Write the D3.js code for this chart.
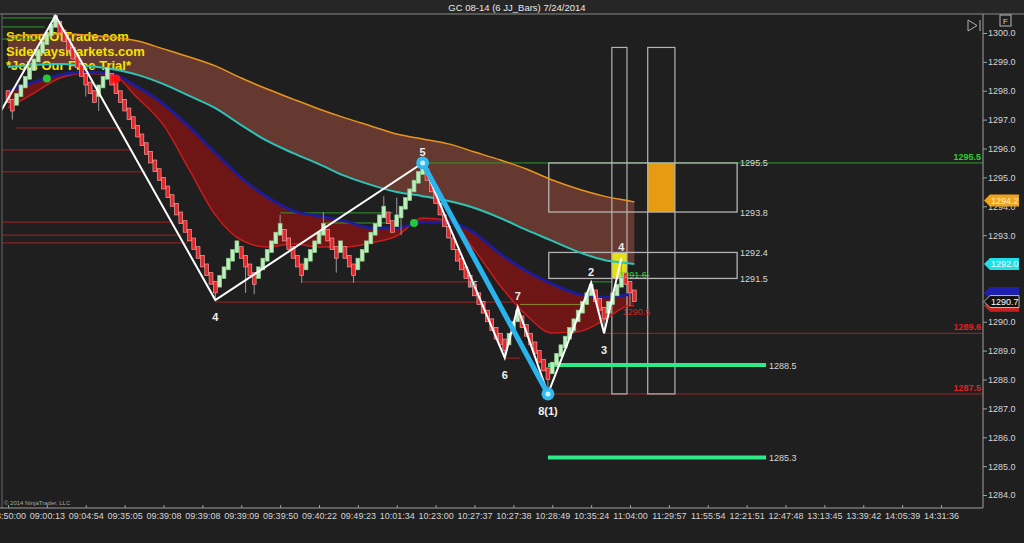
<!DOCTYPE html>
<html><head><meta charset="utf-8">
<script src="https://cdn.jsdelivr.net/npm/d3@7"></script>
<style>
html,body{margin:0;padding:0;background:#1e1e1e;overflow:hidden;}
svg{display:block;font-family:"Liberation Sans",Arial,sans-serif;}
</style></head><body>
<svg id="c" width="1024" height="543"></svg>
<script>
// ---------------- DATA ----------------
const title = "GC 08-14 (6 JJ_Bars)  7/24/2014";
const timeLabels = ["08:50:00","09:00:13","09:04:54","09:35:05","09:39:08","09:39:08","09:39:09","09:39:50","09:40:22","09:49:23","10:01:34","10:23:00","10:27:37","10:27:38","10:28:49","10:35:24","11:04:00","11:29:57","11:55:54","12:21:51","12:47:48","13:13:45","13:39:42","14:05:39","14:31:36"];
const priceTicks = [1284,1285,1286,1287,1288,1289,1290,1293,1294,1295,1296,1297,1298,1299,1300];

const startClose = 1297.9;
const closes = [
1297.6,1297.3,1297.9,1298.2,1298.5,1298.8,1299.1,1299.4,1299.7,1300.0,
1300.3,1300.6,1300.0,1299.7,1299.4,1299.1,1298.8,1298.5,1298.2,1297.9,
1297.6,1298.2,1298.5,1298.8,1298.2,1297.9,1297.6,1297.3,1297.0,1296.7,
1296.4,1296.1,1295.8,1295.5,1295.2,1294.9,1294.6,1294.3,1294.0,1293.7,
1293.4,1293.1,1292.8,1292.5,1292.2,1291.9,1291.6,1291.3,1291.0,1291.6,
1291.9,1292.2,1292.5,1292.8,1292.2,1291.9,1291.6,1291.3,1291.9,1292.2,
1292.5,1292.8,1293.1,1293.4,1292.8,1292.5,1292.2,1291.9,1291.6,1292.2,
1292.5,1292.8,1293.1,1293.4,1292.8,1292.5,1292.2,1292.8,1292.2,1291.9,
1291.6,1292.2,1292.5,1292.8,1293.1,1293.4,1293.7,1294.0,1293.4,1293.1,
1293.7,1294.0,1294.3,1294.6,1294.9,1295.2,1295.5,1294.9,1294.5,1294.1,
1293.7,1293.3,1292.9,1292.5,1292.1,1291.8,1291.5,1291.2,1290.9,1290.6,
1290.3,1290.0,1289.7,1289.4,1289.2,1289.0,1289.6,1290.0,1290.4,1289.8,
1289.5,1289.2,1288.9,1288.6,1288.3,1288.0,1288.6,1288.9,1289.2,1289.5,
1289.8,1290.1,1290.4,1290.7,1291.0,1291.3,1290.7,1290.4,1290.1,1290.7,
1291.0,1291.3,1291.6,1291.3,1291.0,1290.7
];
const wickIdx = [1,18,21,48,55,57,63,68,73,76,80,87,90,91,115,118,125,131,135,138,142,144];
const wickLo  = [1297.0,1297.8,1297.3,1290.75,1291.0,1290.95,null,1291.35,null,1291.7,1291.35,null,null,1293.0,1288.75,null,1287.5,1289.6,null,1289.6,null,1290.55];
const wickHi  = [null,null,null,null,null,null,1293.7,null,1293.8,null,null,1294.35,1294.3,null,null,1290.5,null,null,1291.4,null,1292.2,null];

const maIdx    = [0,6,12,18,24,30,36,42,48,54,60,66,72,78,84,90,96,102,108,114,120,126,132,138,144,145];
const maOrange = [1299.90,1299.93,1299.97,1299.93,1299.86,1299.72,1299.45,1299.17,1298.86,1298.44,1298.06,1297.71,1297.37,1297.06,1296.78,1296.50,1296.33,1296.16,1295.88,1295.60,1295.29,1294.91,1294.60,1294.35,1294.18,1294.15];
const maTeal   = [1298.82,1298.89,1298.93,1298.86,1298.75,1298.55,1298.23,1297.82,1297.40,1296.81,1296.26,1295.84,1295.46,1295.05,1294.74,1294.49,1294.35,1294.18,1293.94,1293.59,1293.18,1292.80,1292.42,1292.14,1292.02,1292.0];
const maNavy   = [1297.99,1298.30,1298.55,1298.65,1298.58,1298.13,1297.54,1296.74,1295.84,1294.98,1294.32,1293.84,1293.66,1293.49,1293.25,1293.25,1293.45,1293.45,1293.07,1292.35,1291.76,1291.31,1290.96,1290.85,1290.95,1291.0];
const maRed    = [1297.40,1297.92,1298.44,1298.61,1298.55,1297.75,1296.81,1295.26,1293.70,1292.83,1292.59,1292.69,1292.59,1292.59,1292.73,1292.97,1293.59,1293.49,1292.48,1291.24,1290.23,1289.61,1289.65,1290.06,1290.55,1290.55];

const pivotIdx   = [-2,11,48,96,115,118,125,135,138,142];
const pivotPrice = [1297.2,1300.6,1290.75,1295.5,1288.75,1290.5,1287.5,1291.35,1289.6,1292.2];
const swingText  = ["4","5","6","7","8(1)","2","3","4"];
const swingPivot = [2,3,4,5,6,7,8,9];
const swingBelow = [true,false,true,false,true,false,true,false];

const redLvlPrice = [1296.71,1295.95,1295.19,1293.45,1293.0,1292.73,1291.38,1290.68,1288.74,1289.6,1287.5];
const redLvlFrom  = [2,-3,-3,-3,-3,-3,68,48,115,138,126];
const redLvlTo    = [26.5,28.7,32,38.2,40.2,41.4,107,117,118.5,999,999];
const grnLvlPrice = [1300.52,1300.21,1299.79,1295.5,1293.77,1293.42,1291.38,1291.6];
const grnLvlFrom  = [-3,-3,-3,96,63,73,135,142];
const grnLvlTo    = [11,8.5,7,999,89,89,140,148.5];
const oliveLvl    = {price:1290.6, from:118.5, to:132.5};
const thickLvlPrice = [1288.5,1285.3];
const thickLvlFrom  = [125,125];
const thickLvlTo    = [175.5,175.5];

const boxFrom = [125.2,125.2], boxTo=[168.8,168.8], boxHi=[1295.5,1292.4], boxLo=[1293.8,1291.5];
const tallFrom = [139.8,148.1], tallTo=[143.3,154.4], tallHi=[1299.5,1299.5], tallLo=[1287.5,1287.5];
const fillFrom = [148.1,139.8], fillTo=[154.4,143.3], fillHi=[1295.5,1292.4], fillLo=[1293.8,1291.5];
const fillColor = ["#e69c12","#e6df12"];

const greenDotIdx=[9,94], greenDotPrice=[1298.42,1293.42];
const redDotIdx=[25], redDotPrice=[1298.41];

const axisTagPrice = [1294.2,1292.0,1291.0,1290.55,1290.7];
const axisTagText  = ["1294.2","1292.0","","","1290.7"];
const axisTagFill  = ["#f0a41c","#22e0e8","#1e20b0","#c82020","#111111"];

// ---------------- DRAW ----------------
const W=1024,H=543,L=2,R=983,T=14,B=508;
const x = d3.scaleLinear().domain([0,216]).range([8,941]);
const y = d3.scaleLinear().domain([1284,1300]).range([495,33]);
const X = v => v>=999 ? R : x(v);
const svg = d3.select('#c');

svg.append('rect').attr('width',W).attr('height',H).attr('fill','#1f1f1f');
svg.append('rect').attr('width',W).attr('height',T).attr('fill','#262626');
svg.append('text').attr('x',517).attr('y',11).attr('text-anchor','middle')
  .attr('fill','#e8e8e8').attr('font-size',9.5).text(title);

svg.append('defs').append('clipPath').attr('id','clip').append('rect')
  .attr('x',L).attr('y',T).attr('width',R-L).attr('height',B-T);
const g = svg.append('g').attr('clip-path','url(#clip)');

const logo = ["SchoolOfTrade.com","SidewaysMarkets.com","*Join Our Free Trial*"];

const ma = maIdx.map((d,i)=>({i:d,o:maOrange[i],t:maTeal[i],n:maNavy[i],r:maRed[i]}));
const cv = d3.curveMonotoneX;
g.append('path').datum(ma).attr('fill','#6c3b31').attr('fill-opacity',0.93)
  .attr('d',d3.area().curve(cv).x(d=>x(d.i)).y0(d=>y(d.t)).y1(d=>y(d.o)));
g.append('path').datum(ma).attr('fill','#6e1616')
  .attr('d',d3.area().curve(cv).x(d=>x(d.i)).y0(d=>y(d.r)).y1(d=>y(d.n)));

g.selectAll('text.logo').data(logo).join('text').attr('class','logo')
  .attr('x',6).attr('y',(d,i)=>41+i*14.5).attr('fill','#f3e300')
  .attr('font-size',13).attr('font-weight','bold').text(d=>d);

// level lines
redLvlPrice.forEach((p,k)=>g.append('line').attr('x1',X(redLvlFrom[k])).attr('x2',X(redLvlTo[k]))
  .attr('y1',y(p)).attr('y2',y(p)).attr('stroke','#a02424').attr('stroke-width',1));
grnLvlPrice.forEach((p,k)=>g.append('line').attr('x1',X(grnLvlFrom[k])).attr('x2',X(grnLvlTo[k]))
  .attr('y1',y(p)).attr('y2',y(p)).attr('stroke','#2e9a2e').attr('stroke-width',1));
g.append('line').attr('x1',x(oliveLvl.from)).attr('x2',x(oliveLvl.to)).attr('y1',y(oliveLvl.price)).attr('y2',y(oliveLvl.price))
  .attr('stroke','#8a8a28').attr('stroke-width',1);

// zones
fillFrom.forEach((f,k)=>g.append('rect').attr('x',x(f)).attr('width',x(fillTo[k])-x(f))
  .attr('y',y(fillHi[k])).attr('height',y(fillLo[k])-y(fillHi[k])).attr('fill',fillColor[k]));
boxFrom.forEach((f,k)=>{
  g.append('rect').attr('x',x(f)).attr('width',x(boxTo[k])-x(f)).attr('y',y(boxHi[k]))
   .attr('height',y(boxLo[k])-y(boxHi[k])).attr('fill','none').attr('stroke','#b4b4b4').attr('stroke-width',1.3);
  [boxHi[k],boxLo[k]].forEach(p=>g.append('text').attr('x',x(boxTo[k])+3).attr('y',y(p)+3.5)
   .attr('fill','#d8d8d8').attr('font-size',9).text(p.toFixed(1)));
});
tallFrom.forEach((f,k)=>g.append('rect').attr('x',x(f)).attr('width',x(tallTo[k])-x(f)).attr('y',y(tallHi[k]))
  .attr('height',y(tallLo[k])-y(tallHi[k])).attr('fill','none').attr('stroke','#b4b4b4').attr('stroke-width',1.2));

// MA lines
const ln = key => d3.line().curve(cv).x(d=>x(d.i)).y(d=>y(d[key]));
g.append('path').datum(ma).attr('d',ln('o')).attr('fill','none').attr('stroke','#e8951e').attr('stroke-width',1.5);
g.append('path').datum(ma).attr('d',ln('t')).attr('fill','none').attr('stroke','#2cc4b8').attr('stroke-width',2);
g.append('path').datum(ma).attr('d',ln('r')).attr('fill','none').attr('stroke','#c81c1c').attr('stroke-width',1.5);
g.append('path').datum(ma).attr('d',ln('n')).attr('fill','none').attr('stroke','#1c1c9c').attr('stroke-width',2.8);

// thick green levels
thickLvlPrice.forEach((p,k)=>{
  g.append('line').attr('x1',x(thickLvlFrom[k])).attr('x2',x(thickLvlTo[k])).attr('y1',y(p)).attr('y2',y(p))
   .attr('stroke','#2ee88a').attr('stroke-width',4);
  g.append('text').attr('x',x(thickLvlTo[k])+3).attr('y',y(p)+3.5).attr('fill','#d8d8d8').attr('font-size',9).text(p.toFixed(1));
});

// bars
const bars = closes.map((c,i)=>{const pc=i?closes[i-1]:startClose;const up=c>pc;return {i,c,up,top:up?c:c+0.4,bot:up?c-0.4:c};});
wickIdx.forEach((bi,k)=>{
  const b=bars[bi];
  if(wickLo[k]!=null) g.append('line').attr('x1',x(bi)).attr('x2',x(bi)).attr('y1',y(b.bot)).attr('y2',y(wickLo[k])).attr('stroke','#9a9a9a').attr('stroke-width',1);
  if(wickHi[k]!=null) g.append('line').attr('x1',x(bi)).attr('x2',x(bi)).attr('y1',y(b.top)).attr('y2',y(wickHi[k])).attr('stroke','#9a9a9a').attr('stroke-width',1);
});
g.selectAll('rect.bar').data(bars).join('rect').attr('class','bar')
  .attr('x',d=>x(d.i)-1.9).attr('width',3.8)
  .attr('y',d=>y(d.top)).attr('height',d=>y(d.bot)-y(d.top))
  .attr('fill',d=>d.up?'#bdeebd':'#e3262a')
  .attr('stroke',d=>d.up?'#8fcf8f':'#f4a0a0').attr('stroke-width',0.7);

// zigzag
const piv = pivotIdx.map((d,i)=>({i:d,p:pivotPrice[i]}));
g.append('path').datum(piv).attr('d',d3.line().x(d=>x(d.i)).y(d=>y(d.p)))
  .attr('fill','none').attr('stroke','#ffffff').attr('stroke-width',2);
g.append('line').attr('x1',x(piv[3].i)).attr('y1',y(piv[3].p)).attr('x2',x(piv[6].i)).attr('y2',y(piv[6].p))
  .attr('stroke','#2ab4ee').attr('stroke-width',5).attr('stroke-linecap','round');
[3,6].forEach(k=>{
  g.append('circle').attr('cx',x(piv[k].i)).attr('cy',y(piv[k].p)).attr('r',6.5).attr('fill','#33b9f0');
  g.append('circle').attr('cx',x(piv[k].i)).attr('cy',y(piv[k].p)).attr('r',2.5).attr('fill','#c8f0ff');
});
greenDotIdx.forEach((d,k)=>g.append('circle').attr('cx',x(d)).attr('cy',y(greenDotPrice[k])).attr('r',4).attr('fill','#22c83a'));
redDotIdx.forEach((d,k)=>g.append('circle').attr('cx',x(d)).attr('cy',y(redDotPrice[k])).attr('r',4.5).attr('fill','#ff1010'));

swingText.forEach((t,k)=>{const p=piv[swingPivot[k]];
  g.append('text').attr('x',x(p.i)).attr('y',y(p.p)+(swingBelow[k]?21:-7)).attr('text-anchor','middle')
   .attr('fill','#f0f0f0').attr('font-size',11).attr('font-weight','bold').text(t);});

g.append('text').attr('x',x(141.5)).attr('y',y(1291.6)+2).attr('fill','#3ed03e').attr('font-size',9).text("1291.6");
g.append('text').attr('x',x(142.3)).attr('y',y(1290.5)+8).attr('fill','#d02828').attr('font-size',9).text("1290.5");
g.append('text').attr('x',x(106.8)).attr('y',y(1291.38)+5).attr('fill','#b8b8b8').attr('font-size',9).attr('font-weight','bold').text("IT");
[[1295.5,'#30cc30'],[1289.6,'#e02222'],[1287.5,'#e02222']].forEach(([p,c])=>
  g.append('text').attr('x',R-2).attr('y',y(p)-3).attr('text-anchor','end').attr('fill',c)
   .attr('font-size',9).attr('font-weight','bold').text(p.toFixed(1)));
g.append('text').attr('x',4).attr('y',505).attr('fill','#a8a8a8').attr('font-size',6).text("© 2014 NinjaTrader, LLC");

// frame
svg.append('line').attr('x1',0).attr('x2',W).attr('y1',T).attr('y2',T).attr('stroke','#8a8a8a');
svg.append('line').attr('x1',L).attr('x2',L).attr('y1',T).attr('y2',B).attr('stroke','#6a6a6a');
svg.append('line').attr('x1',R).attr('x2',R).attr('y1',T).attr('y2',B).attr('stroke','#a0a0a0');

// axes
const xa = svg.append('g').attr('transform',`translate(0,${B})`)
  .call(d3.axisBottom(x).tickValues(d3.range(0,217,9)).tickFormat((d,i)=>timeLabels[i]).tickSize(-3).tickPadding(5));
xa.select('.domain').remove();
xa.selectAll('line').attr('stroke','#a0a0a0');
xa.selectAll('text').attr('fill','#d4d4d4').attr('font-size',9).attr('font-family','Liberation Sans, Arial, sans-serif');
svg.append('line').attr('x1',0).attr('x2',R).attr('y1',B).attr('y2',B).attr('stroke','#a0a0a0');

const ya = svg.append('g').attr('transform',`translate(${R},0)`)
  .call(d3.axisRight(y).tickValues(priceTicks).tickFormat(d3.format('.1f')).tickSize(4).tickPadding(1));
ya.select('.domain').remove();
ya.selectAll('line').attr('stroke','#a0a0a0');
ya.selectAll('text').attr('fill','#d4d4d4').attr('font-size',9).attr('font-family','Liberation Sans, Arial, sans-serif');

// axis tags
axisTagPrice.forEach((p,k)=>{
  const yy=y(p);
  svg.append('polygon').attr('points',`${R+1},${yy} ${R+7},${yy-6} ${R+36},${yy-6} ${R+36},${yy+6} ${R+7},${yy+6}`)
    .attr('fill',axisTagFill[k]).attr('stroke',k===4?'#e0e0e0':'none').attr('stroke-width',0.8);
  if(axisTagText[k]) svg.append('text').attr('x',R+8).attr('y',yy+3.3).attr('fill',k===0?'#fff0c0':(k===1?'#f0ffff':'#ffffff'))
    .attr('font-size',9).text(axisTagText[k]);
});

// icons
svg.append('polygon').attr('points','968,20 968,31 977,25.5').attr('fill','none').attr('stroke','#b0b0b0');
svg.append('line').attr('x1',980).attr('x2',980).attr('y1',20).attr('y2',31).attr('stroke','#b0b0b0');
svg.append('rect').attr('x',1000).attr('y',15).attr('width',11).attr('height',11).attr('fill','none').attr('stroke','#b8b8b8');
svg.append('text').attr('x',1005.5).attr('y',24).attr('text-anchor','middle').attr('fill','#d0d0d0').attr('font-size',8).text('F');
</script>
</body></html>
